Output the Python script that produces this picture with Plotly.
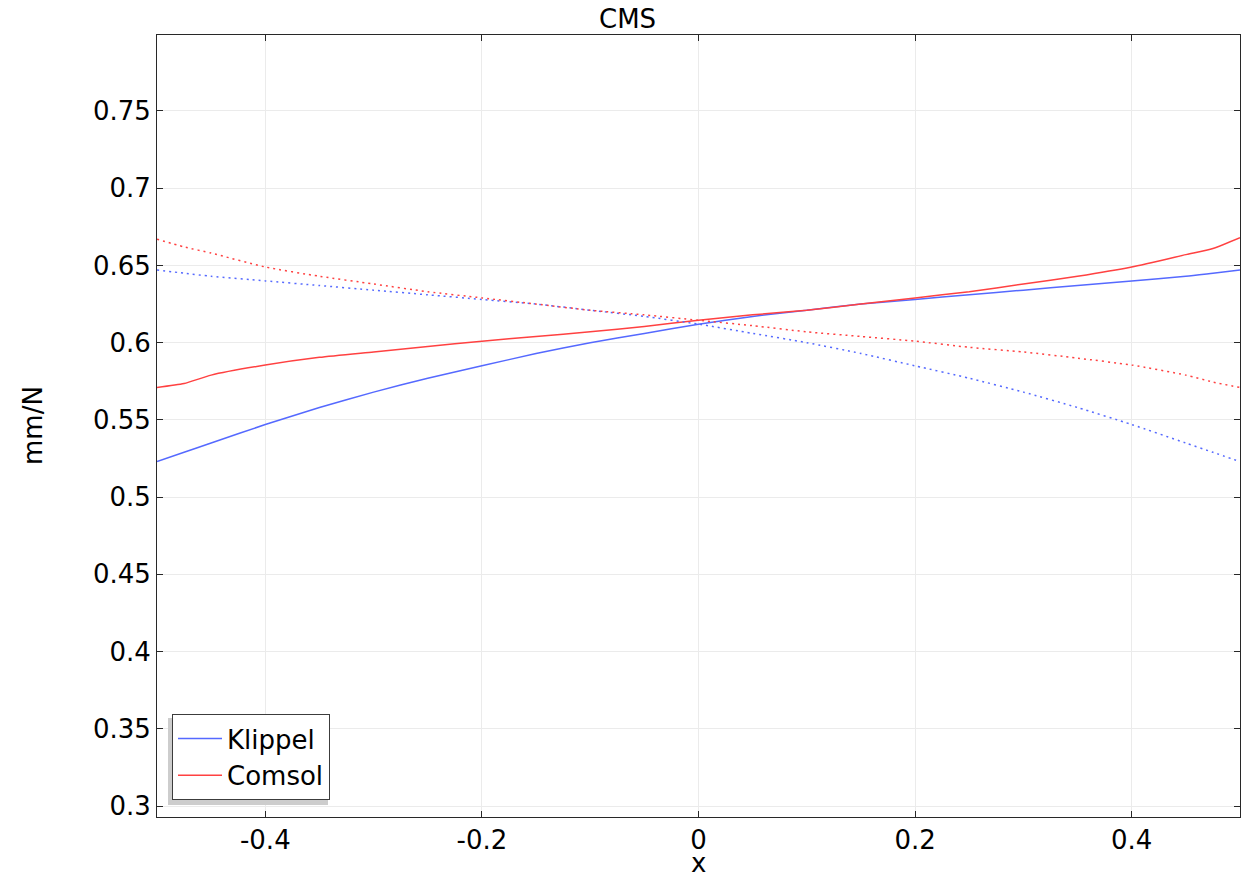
import plotly.graph_objects as go

x = [-0.5, -0.475, -0.45, -0.4, -0.35, -0.3, -0.25, -0.2, -0.15, -0.1, -0.05, 0.0,
     0.05, 0.1, 0.15, 0.2, 0.25, 0.3, 0.35, 0.4, 0.45, 0.475, 0.5]

klippel = [0.523, 0.529, 0.535, 0.547, 0.558, 0.568, 0.577, 0.585, 0.593, 0.600, 0.606, 0.612,
           0.617, 0.621, 0.625, 0.628, 0.631, 0.634, 0.637, 0.640, 0.643, 0.645, 0.647]
klippel_mirror = [0.647, 0.645, 0.643, 0.640, 0.637, 0.634, 0.631, 0.628, 0.625, 0.621, 0.617, 0.612,
                  0.606, 0.600, 0.593, 0.585, 0.577, 0.568, 0.558, 0.547, 0.535, 0.529, 0.523]

comsol = [0.571, 0.5735, 0.579, 0.5855, 0.5905, 0.594, 0.5975, 0.601, 0.604, 0.607, 0.6105, 0.6145,
          0.618, 0.621, 0.625, 0.629, 0.633, 0.638, 0.643, 0.649, 0.657, 0.661, 0.668]
comsol_mirror = [0.667, 0.662, 0.658, 0.649, 0.643, 0.638, 0.633, 0.629, 0.625, 0.621, 0.618, 0.6145,
                 0.611, 0.607, 0.604, 0.601, 0.597, 0.594, 0.590, 0.5855, 0.579, 0.5745, 0.571]

xticks = [-0.4, -0.2, 0, 0.2, 0.4]
xticktext = ["-0.4", "-0.2", "0", "0.2", "0.4"]
yticks = [0.3, 0.35, 0.4, 0.45, 0.5, 0.55, 0.6, 0.65, 0.7, 0.75]
yticktext = ["0.3", "0.35", "0.4", "0.45", "0.5", "0.55", "0.6", "0.65", "0.7", "0.75"]

BLUE = "rgb(85,105,255)"
RED = "rgb(255,65,65)"
DOT = "2px,4px"

fig = go.Figure()
fig.add_trace(go.Scatter(x=x, y=klippel, mode="lines", name="Klippel",
                         line=dict(color=BLUE, width=1.5, shape="spline", smoothing=0.6)))
fig.add_trace(go.Scatter(x=x, y=comsol, mode="lines", name="Comsol",
                         line=dict(color=RED, width=1.5, shape="spline", smoothing=0.6)))
fig.add_trace(go.Scatter(x=x, y=klippel_mirror, mode="lines", showlegend=False,
                         line=dict(color=BLUE, width=1.5, dash=DOT, shape="spline", smoothing=0.6)))
fig.add_trace(go.Scatter(x=x, y=comsol_mirror, mode="lines", showlegend=False,
                         line=dict(color=RED, width=1.5, dash=DOT, shape="spline", smoothing=0.6)))

FS = 26
font = dict(family="DejaVu Sans", size=FS, color="black")

# page body has an 8px default margin, so the figure is offset by 8px
OFF = 8
W, H = 1250 - OFF, 875 - OFF
L, R, T, B = 157 - OFF, 10, 35 - OFF, 58
pw, ph = W - L - R, H - T - B

def px_x(wx):
    return (wx - OFF - L) / pw

def px_y(wy):
    return (H - B - (wy - OFF)) / ph

fig.update_layout(
    width=W, height=H,
    margin=dict(l=L, r=R, t=T, b=B, autoexpand=False),
    paper_bgcolor="white", plot_bgcolor="white",
    font=font,
    showlegend=True,
    legend=dict(x=px_x(172), y=px_y(800), xanchor="left", yanchor="bottom",
                bgcolor="white", bordercolor="rgb(60,60,60)", borderwidth=1,
                font=font, itemwidth=44, tracegroupgap=0),
    xaxis=dict(range=[-0.5, 0.5], tickvals=xticks, ticktext=xticktext, automargin=False,
               showgrid=True, gridcolor="rgb(235,235,235)", gridwidth=1,
               showline=True, linecolor="rgb(40,40,40)", linewidth=1, mirror="ticks",
               ticks="inside", ticklen=6, tickcolor="rgb(40,40,40)", zeroline=False),
    yaxis=dict(range=[0.2929, 0.7992], tickvals=yticks, ticktext=yticktext, automargin=False,
               showgrid=True, gridcolor="rgb(235,235,235)", gridwidth=1,
               showline=True, linecolor="rgb(40,40,40)", linewidth=1, mirror="ticks",
               ticks="inside", ticklen=6, tickcolor="rgb(40,40,40)", zeroline=False),
    shapes=[
        dict(type="rect", xref="paper", yref="paper", layer="above",
             x0=px_x(168), x1=px_x(328), y0=px_y(805), y1=px_y(718),
             fillcolor="rgb(205,205,205)", line=dict(width=0)),
    ],
    annotations=[
        dict(text="CMS", xref="paper", yref="paper", x=px_x(627), y=1, yshift=16,
             xanchor="center", yanchor="middle", showarrow=False, font=font),
        dict(text="x", xref="paper", yref="paper", x=0.5, y=0, yshift=-46,
             xanchor="center", yanchor="middle", showarrow=False, font=font),
        dict(text="mm/N", xref="paper", yref="paper", x=0, xshift=-124, y=0.5,
             xanchor="center", yanchor="middle", textangle=-90, showarrow=False, font=font),
    ],
)

fig.write_html("out.html")
